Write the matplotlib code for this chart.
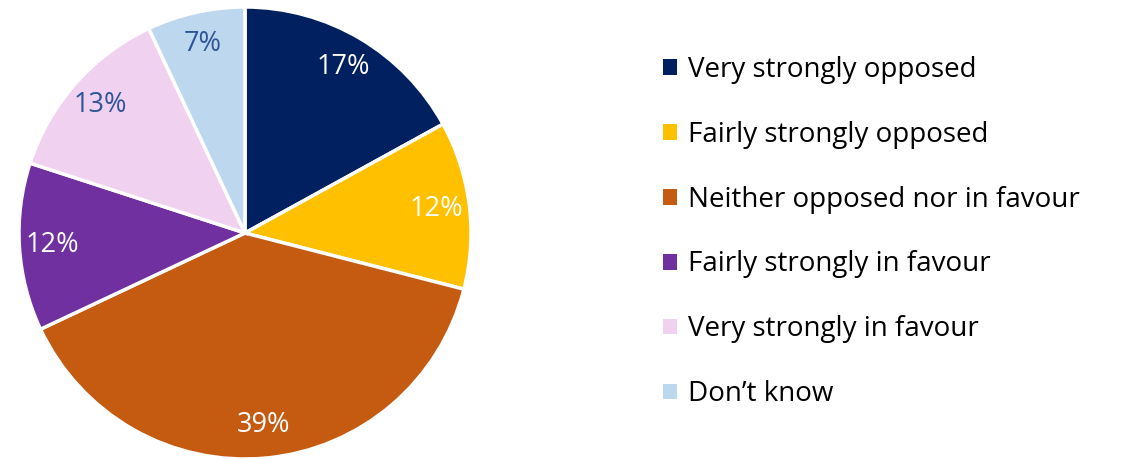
import matplotlib.pyplot as plt
from matplotlib.patches import Patch

plt.rcParams['font.family'] = ['Open Sans', 'DejaVu Sans']

categories = ['Very strongly opposed', 'Fairly strongly opposed',
              'Neither opposed nor in favour', 'Fairly strongly in favour',
              'Very strongly in favour', 'Don\u2019t know']
shares = [17, 12, 39, 12, 13, 7]
colors = ['#002060', '#FFC000', '#C55A11', '#7030A0', '#F0D2F0', '#BDD7EE']
label_colors = ['white', 'white', 'white', 'white', '#2F5597', '#2F5597']

W, H = 1121, 459
fig = plt.figure(figsize=(W / 100, H / 100), dpi=100)

# pie axes: centre (245, 233) px, radius 226 px
cx, cy, r = 245, H - 233, 226
ax = fig.add_axes([(cx - r) / W, (cy - r) / H, 2 * r / W, 2 * r / H])
wedges, texts, autotexts = ax.pie(
    shares, colors=colors, startangle=90, counterclock=False, radius=1,
    autopct='%d%%', pctdistance=0.855,
    wedgeprops=dict(edgecolor='white', linewidth=2.5),
    textprops=dict(fontsize=19.5))
for t, c in zip(autotexts, label_colors):
    t.set_color(c)
ax.set_xlim(-1, 1)
ax.set_ylim(-1, 1)
ax.set_aspect('equal')
ax.axis('off')

handles = [Patch(facecolor=c, edgecolor='none') for c in colors]
fig.legend(handles, categories, loc='center left',
           bbox_to_anchor=(649 / W, (H - 232) / H), frameon=False,
           fontsize=20, labelspacing=1.33, handlelength=0.5,
           handleheight=0.5, handletextpad=0.4, borderpad=0)

fig.savefig('out.png', dpi=100)
